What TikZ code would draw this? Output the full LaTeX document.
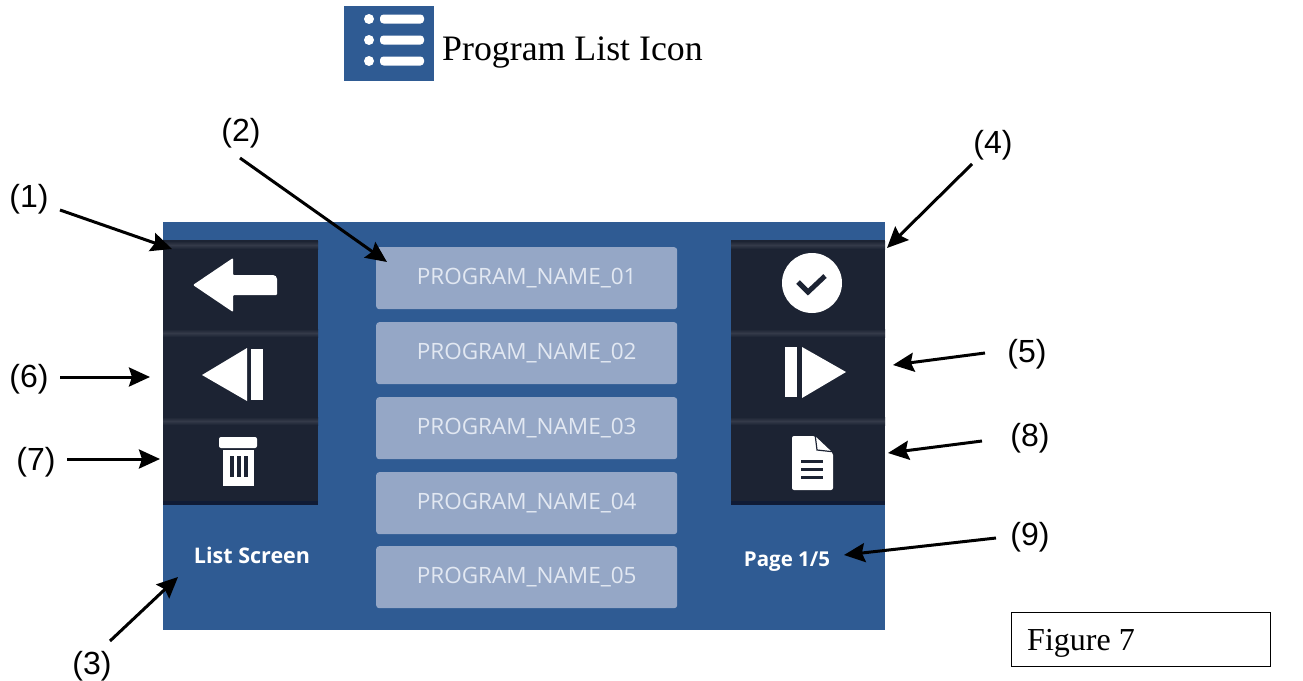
\documentclass[tikz,border=0pt]{standalone}
\usepackage{fontspec}
\setmainfont{Liberation Sans}
\newfontfamily\seriffont{Liberation Serif}
\newfontfamily\uifont{Open Sans}
\usetikzlibrary{arrows.meta}
\definecolor{panelblue}{HTML}{2F5B93}
\definecolor{btndark}{HTML}{1C2333}
\definecolor{btnedge}{HTML}{343A49}
\definecolor{btnshadow}{HTML}{101B35}
\definecolor{listbox}{HTML}{95A7C6}
\definecolor{boxtext}{HTML}{E2E8F2}
\tikzset{
  x=1pt,y=-1pt,
  panel/.style={fill=panelblue,draw=none},
  btn/.style={fill=btndark,draw=none,minimum width=155pt,minimum height=88pt,inner sep=0pt,anchor=north west},
  prog/.style={fill=listbox,draw=none,rounded corners=3pt,minimum width=301pt,minimum height=62pt,inner sep=0pt,anchor=north west,text=boxtext,font=\uifont\fontsize{22.5}{24}\selectfont},
  callout/.style={font=\fontsize{32}{34}\selectfont,inner sep=0pt},
  pointer/.style={draw=black,line width=3pt,-{Stealth[length=21pt,width=19pt,inset=3pt]}},
  ui/.style={font=\uifont\bfseries\fontsize{21.5}{23}\selectfont,text=white,inner sep=0pt},
  uipage/.style={font=\uifont\bfseries\fontsize{20.5}{22}\selectfont,text=white,inner sep=0pt},
}
\begin{document}
\begin{tikzpicture}
\useasboundingbox (0,0) rectangle (1303,680);
% top icon
\node[fill=panelblue,minimum width=90pt,minimum height=75pt,inner sep=0pt,anchor=north west] (listicon) at (344,6) {};
\foreach \yy in {19,40,61}{
  \fill[white] (369,\yy) circle (5pt);
  \fill[white,rounded corners=3.5pt] (380,\yy-4.5) rectangle (424,\yy+4.5);
}
\node[font=\seriffont\fontsize{35.8}{38}\selectfont,anchor=west,inner sep=0pt] (listlabel) at (442,53) {Program List Icon};
% panel
\node[panel,minimum width=722pt,minimum height=408pt,inner sep=0pt,anchor=north west] (screen) at (163,222) {};
% button shadow
\fill[btnshadow] (163,500) rectangle (318,505);
\fill[btnshadow] (731,500) rectangle (885,505);
% left buttons
\node[btn] (back) at (163,240) {};
\node[btn] (prev) at (163,328) {};
\node[btn,minimum height=85pt] (trash) at (163,416) {};
% right buttons
\node[btn,minimum width=154pt] (ok) at (731,240) {};
\node[btn,minimum width=154pt] (next) at (731,328) {};
\node[btn,minimum width=154pt,minimum height=85pt] (file) at (731,416) {};
\foreach \xa/\xb in {163/318,731/885}{
  \shade[top color=btndark,bottom color=btndark,middle color=btnedge] (\xa,241) rectangle (\xb,249);
  \shade[top color=btndark,bottom color=btndark,middle color=btnedge] (\xa,329) rectangle (\xb,337);
  \shade[top color=btndark,bottom color=btndark,middle color=btnedge] (\xa,417) rectangle (\xb,425);
}
% back arrow
\fill[white,rounded corners=1pt] (193,285) -- (233,258) -- (233,275) -- (272,275) to[rounded corners=4pt] (277,275) -- (277,295) -- (233,295) -- (233,312) -- cycle;
% previous
\fill[white] (202,375) -- (247,348) -- (247,401) -- cycle;
\fill[white] (251,349) rectangle (263,400);
% trash
\fill[white] (230,438) arc (180:0:8 and 6) -- cycle;
\fill[white,rounded corners=2pt] (219,437) rectangle (257,448);
\fill[white] (223,450) rectangle (254,486);
\fill[btndark] (230,456) rectangle (234,477);
\fill[btndark] (237,456) rectangle (241,477);
\fill[btndark] (244,456) rectangle (248,477);
% check
\fill[white] (812,283) circle (30pt);
\draw[btndark,line width=5pt] (798,282) -- (808,292) -- (825,276);
% next
\fill[white] (785,347) rectangle (797,397);
\fill[white] (802,347) -- (846,372) -- (802,398) -- cycle;
% file
\fill[white,rounded corners=2pt] (792,436) -- (815,436) -- (833,453) -- (833,490) -- (792,490) -- cycle;
\draw[btndark,line width=1.2pt] (815,434) -- (817,450) -- (835,452);
\foreach \yy in {461,469,477}{\fill[btndark] (801,\yy-1.5) rectangle (823,\yy+1.5);}
% program boxes
\node[prog] (p1) at (376,247) {\raisebox{-4pt}{PROGRAM\_NAME\_01}};
\node[prog] (p2) at (376,322) {\raisebox{2pt}{PROGRAM\_NAME\_02}};
\node[prog] (p3) at (376,397) {\raisebox{3pt}{PROGRAM\_NAME\_03}};
\node[prog] (p4) at (376,472) {\raisebox{2pt}{PROGRAM\_NAME\_04}};
\node[prog] (p5) at (376,546) {\raisebox{3pt}{PROGRAM\_NAME\_05}};
% panel texts
\node[ui] (lsc) at (252,555) {List Screen};
\node[uipage] (pg) at (787,562) {Page 1/5};
% figure box
\node[draw=black,line width=1pt,minimum width=259pt,minimum height=54pt,inner sep=0pt,anchor=north west] (figbox) at (1011,612) {};
\node[font=\seriffont\fontsize{32}{34}\selectfont,anchor=west,inner sep=0pt] (figtxt) at (1027,643) {Figure 7};
% callouts
\node[callout] (c1) at (29,199) {(1)};
\node[callout] (c2) at (241,133) {(2)};
\node[callout] (c3) at (92,666) {(3)};
\node[callout] (c4) at (993,145) {(4)};
\node[callout] (c5) at (1027,354) {(5)};
\node[callout] (c6) at (29,379) {(6)};
\node[callout] (c7) at (36,462) {(7)};
\node[callout] (c8) at (1030,438) {(8)};
\node[callout] (c9) at (1030,537) {(9)};
% targets
\coordinate (t1) at (172,249);
\coordinate (t2) at (387,262);
\coordinate (t3) at (178,577);
\coordinate (t4) at (887,248);
\coordinate (t5) at (893,365);
\coordinate (t6) at (150,377);
\coordinate (t7) at (160,459);
\coordinate (t8) at (888,453);
\coordinate (t9) at (844,555);
\coordinate (s1) at (60,210);
\coordinate (s2) at (240,158);
\coordinate (s3) at (110,641);
\coordinate (s4) at (972,164);
\coordinate (s5) at (985,353);
\coordinate (s6) at (60,377);
\coordinate (s7) at (67,459);
\coordinate (s8) at (982,441);
\coordinate (s9) at (996,538);
\foreach \i in {1,...,9}{\draw[pointer] (s\i) -- (t\i);}
\end{tikzpicture}
\end{document}
